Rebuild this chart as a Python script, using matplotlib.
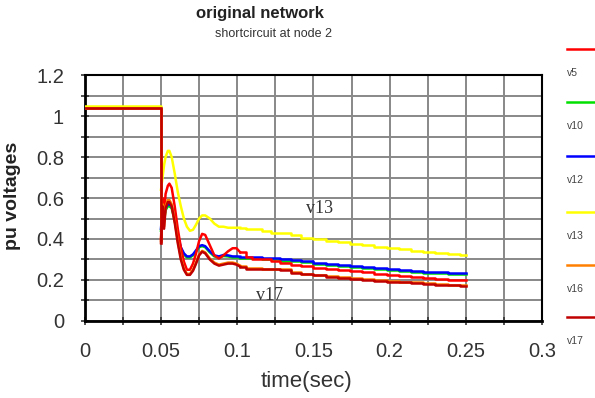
import numpy as np
import matplotlib
matplotlib.use('Agg')
import matplotlib.pyplot as plt
from matplotlib.lines import Line2D

plt.rcParams['font.family'] = ['Liberation Sans', 'DejaVu Sans']

# time samples (sec) shared by all node voltages
t = [0, 0.05, 0.051, 0.052, 0.053, 0.0545, 0.0555, 0.057, 0.059, 0.061, 0.063, 0.065,
     0.067, 0.069, 0.071, 0.073, 0.075, 0.077, 0.079, 0.082, 0.085, 0.088, 0.091, 0.094,
     0.097, 0.0995, 0.102, 0.106, 0.11, 0.116, 0.122, 0.128, 0.135, 0.142, 0.15, 0.158,
     0.166, 0.174, 0.182, 0.19, 0.198, 0.206, 0.214, 0.222, 0.23, 0.238, 0.246, 0.25]

# pu voltages per node
v5 = [1.04, 0.40, 0.60, 0.50, 0.62, 0.66, 0.67, 0.65, 0.56, 0.45, 0.36, 0.29,
      0.25, 0.25, 0.28, 0.33, 0.39, 0.425, 0.42, 0.37, 0.32, 0.305, 0.32, 0.34,
      0.355, 0.355, 0.335, 0.31, 0.30, 0.30, 0.295, 0.285, 0.275, 0.27, 0.26, 0.255,
      0.25, 0.243, 0.237, 0.23, 0.225, 0.22, 0.215, 0.21, 0.205, 0.202, 0.20, 0.20]
v10 = [1.04, 0.44, 0.54, 0.49, 0.54, 0.56, 0.56, 0.55, 0.49, 0.41, 0.355, 0.325,
       0.31, 0.31, 0.32, 0.34, 0.36, 0.365, 0.36, 0.335, 0.315, 0.31, 0.317, 0.315,
       0.31, 0.31, 0.309, 0.307, 0.305, 0.303, 0.30, 0.295, 0.293, 0.29, 0.28, 0.275,
       0.267, 0.263, 0.258, 0.255, 0.25, 0.245, 0.241, 0.235, 0.232, 0.231, 0.23, 0.23]
v12 = [1.04, 0.45, 0.55, 0.50, 0.55, 0.57, 0.57, 0.56, 0.50, 0.42, 0.36, 0.33,
       0.315, 0.315, 0.325, 0.345, 0.365, 0.37, 0.365, 0.34, 0.32, 0.315, 0.322, 0.32,
       0.315, 0.315, 0.314, 0.312, 0.31, 0.308, 0.305, 0.30, 0.298, 0.295, 0.285, 0.28,
       0.272, 0.268, 0.263, 0.26, 0.255, 0.25, 0.246, 0.24, 0.237, 0.236, 0.235, 0.235]
v13 = [1.05, 0.64, 0.70, 0.76, 0.80, 0.83, 0.83, 0.80, 0.72, 0.63, 0.56, 0.50,
       0.46, 0.44, 0.445, 0.47, 0.50, 0.515, 0.515, 0.50, 0.475, 0.46, 0.46, 0.455,
       0.455, 0.455, 0.455, 0.45, 0.45, 0.44, 0.43, 0.428, 0.418, 0.405, 0.40, 0.39,
       0.383, 0.376, 0.37, 0.362, 0.356, 0.35, 0.343, 0.338, 0.333, 0.328, 0.322, 0.322]
v16 = [1.04, 0.39, 0.57, 0.46, 0.56, 0.59, 0.59, 0.57, 0.49, 0.39, 0.31, 0.255,
       0.23, 0.23, 0.25, 0.285, 0.325, 0.342, 0.335, 0.305, 0.285, 0.275, 0.28, 0.285,
       0.285, 0.28, 0.27, 0.26, 0.258, 0.256, 0.255, 0.253, 0.238, 0.231, 0.225, 0.218,
       0.213, 0.208, 0.203, 0.199, 0.195, 0.192, 0.188, 0.183, 0.18, 0.177, 0.175, 0.174]
v17 = [1.04, 0.38, 0.56, 0.45, 0.55, 0.58, 0.58, 0.56, 0.48, 0.38, 0.30, 0.25,
       0.225, 0.225, 0.245, 0.28, 0.32, 0.338, 0.33, 0.30, 0.28, 0.27, 0.275, 0.28,
       0.28, 0.275, 0.265, 0.255, 0.255, 0.253, 0.252, 0.25, 0.235, 0.228, 0.222, 0.215,
       0.21, 0.205, 0.2, 0.196, 0.192, 0.189, 0.185, 0.18, 0.177, 0.174, 0.172, 0.171]

names = ['v5', 'v10', 'v12', 'v13', 'v16', 'v17']
series = [v5, v10, v12, v13, v16, v17]
colors = ['#ff0000', '#00e000', '#0000ff', '#ffff00', '#ff8000', '#c00000']

x_ticks = [0, 0.05, 0.1, 0.15, 0.2, 0.25, 0.3]
x_labels = ['0', '0.05', '0.1', '0.15', '0.2', '0.25', '0.3']
y_ticks = [0, 0.2, 0.4, 0.6, 0.8, 1.0, 1.2]
y_labels = ['0', '0.2', '0.4', '0.6', '0.8', '1', '1.2']

fig = plt.figure(figsize=(5.95, 3.98), dpi=100)
ax = fig.add_axes([0.1425, 0.1935, 0.7685, 0.618])

# pre-fault level as a step, smooth swing after the fault, staircase tail
tt = np.array(t)
k = int(np.searchsorted(tt, 0.1))
for i in [3, 1, 2, 0, 4, 5]:
    v = np.array(series[i])
    ax.plot(tt[:2], v[:2], color=colors[i], lw=1.8, drawstyle='steps-post', zorder=3)
    ax.plot(tt[1:k + 1], v[1:k + 1], color=colors[i], lw=1.8, zorder=3)
    ax.plot(tt[k:], v[k:], color=colors[i], lw=1.8, drawstyle='steps-post', zorder=3)

ax.set_xticks(x_ticks, x_labels)
ax.set_xticks(np.arange(0.025, 0.3, 0.05), minor=True)
ax.set_yticks(y_ticks, y_labels)
ax.set_yticks(np.arange(0.1, 1.2, 0.2), minor=True)
ax.set_xlim(0, 0.3)
ax.set_ylim(0, 1.2)
ax.grid(which='both', color='#888888', lw=1.4, zorder=1)
ax.tick_params(which='both', direction='inout', length=6, width=1.2, color='#333333',
               labelsize=14.5, labelcolor='#333333')
ax.tick_params(axis='x', pad=12)
ax.tick_params(axis='y', pad=12)
for s in ['left', 'bottom']:
    ax.spines[s].set_linewidth(2.0)
for s in ['top', 'right']:
    ax.spines[s].set_linewidth(1.5)

ax.text(0.154, 0.55, 'v13', family='Liberation Serif', fontsize=13, color='#333333',
        ha='center', va='center', zorder=4)
ax.text(0.1215, 0.125, 'v17', family='Liberation Serif', fontsize=13, color='#333333',
        ha='center', va='center', zorder=4)

ax.set_xlabel('time(sec)', fontsize=16, color='#333333')
ax.xaxis.set_label_coords(0.485, -0.205)
ax.set_ylabel('pu voltages', fontsize=14, fontweight='bold', color='#222222')
ax.yaxis.set_label_coords(-0.14, 0.51)

fig.text(0.437, 0.965, 'original network', fontsize=12, fontweight='bold',
         ha='center', va='center', color='#222222')
fig.text(0.459, 0.915, 'shortcircuit at node 2', fontsize=9, ha='center', va='center',
         color='#333333')

# legend column on the right: short line with the name below it
leg = fig.add_axes([0.95, 0.0, 0.05, 1.0])
leg.set_xlim(0, 1)
leg.set_ylim(398, 0)
leg.axis('off')
line_y = [49, 102, 156, 212, 265, 317]
for name, c, y in zip(names, colors, line_y):
    leg.add_line(Line2D([0.05, 1.0], [y, y], color=c, lw=1.8))
    leg.text(0.05, y + 24, name, fontsize=7.5, color='#444444', va='center', ha='left')

fig.savefig('out.png', dpi=100)
